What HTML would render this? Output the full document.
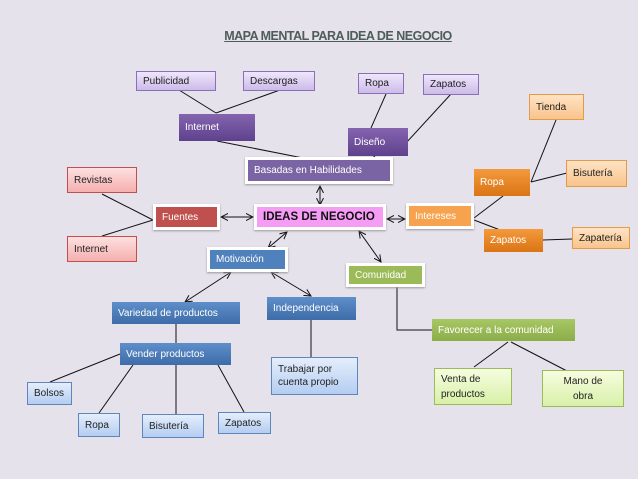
<!DOCTYPE html>
<html><head><meta charset="utf-8"><style>
body{margin:0;width:638px;height:479px;background:#e6e2ec;position:relative;overflow:hidden;font-family:"Liberation Sans",sans-serif;}
.b{position:absolute;box-sizing:border-box;font-size:10px;padding-left:6px;display:flex;align-items:center;}
.lv{background:linear-gradient(#efe6fb,#cdbbe9);border:1px solid #8a70b8;color:#222;}
.pu{background:linear-gradient(#8564b0,#5e418c);color:#fff;}
.lo{background:linear-gradient(#ffe3c4,#f9c48c);border:1px solid #e39a4a;color:#222;}
.or{background:linear-gradient(#f39a3d,#db7414);color:#fff;}
.pk{background:linear-gradient(#fde0e0,#f5afaf);border:1px solid #c0504d;color:#222;}
.bl{background:linear-gradient(#5f8fca,#3d6ca8);color:#fff;}
.lb{background:linear-gradient(#e4eefc,#b4cdf1);border:1px solid #5f86bb;color:#222;}
.gr{background:linear-gradient(#a8c766,#8bad48);color:#fff;}
.lg{background:linear-gradient(#f6fde0,#d8f0a8);border:1px solid #9bbb59;color:#222;}
.w{border:3px solid #fff;box-shadow:0 1px 2px #999;}
</style></head><body>
<div style="position:absolute;left:221px;width:234px;top:29px;text-align:center;font-weight:bold;font-size:12.5px;color:#4d5d57;text-decoration:underline;letter-spacing:-0.5px;">MAPA MENTAL PARA IDEA DE NEGOCIO</div>
<svg width="638" height="479" style="position:absolute;left:0;top:0">
<defs><marker id="a" markerWidth="8" markerHeight="8" refX="7" refY="4" orient="auto-start-reverse" markerUnits="userSpaceOnUse"><path d="M0,0.5L7,4L0,7.5" fill="none" stroke="#111" stroke-width="1"/></marker></defs>
<g stroke="#111" stroke-width="1" fill="none">
<line x1="179" y1="90" x2="216" y2="113"/><line x1="280" y1="90" x2="216" y2="113"/>
<line x1="217" y1="141" x2="308" y2="159"/>
<line x1="386" y1="94" x2="371" y2="128"/><line x1="451" y1="94" x2="406" y2="143"/>
<line x1="375" y1="156" x2="358" y2="168"/>
<line x1="556" y1="120" x2="531" y2="182"/><line x1="567" y1="173" x2="531" y2="182"/>
<line x1="503" y1="196" x2="474" y2="218"/><line x1="474" y1="220" x2="508" y2="233"/>
<line x1="543" y1="240" x2="572" y2="239"/>
<line x1="102" y1="194" x2="153" y2="220"/><line x1="102" y1="236" x2="153" y2="220"/>
<polyline points="397,287 397,330 432,330"/>
<line x1="508" y1="342" x2="474" y2="367"/><line x1="511" y1="342" x2="567" y2="371"/>
<line x1="176" y1="324" x2="176" y2="343"/><line x1="311" y1="320" x2="311" y2="357"/>
<line x1="120" y1="354" x2="50" y2="382"/><line x1="133" y1="365" x2="99" y2="413"/>
<line x1="176" y1="365" x2="176" y2="414"/><line x1="218" y1="365" x2="244" y2="412"/>
</g>
<g stroke="#111" stroke-width="1" marker-start="url(#a)" marker-end="url(#a)">
<line x1="221" y1="217" x2="253" y2="217"/>
<line x1="320" y1="186" x2="320" y2="205"/>
<line x1="387" y1="219" x2="405" y2="219"/>
<line x1="287" y1="232" x2="268" y2="248"/>
<line x1="359" y1="231" x2="381" y2="262"/>
<line x1="231" y1="272" x2="185" y2="302"/>
<line x1="271" y1="272" x2="311" y2="296"/>
</g></svg>
<div class="b lv" style="left:136px;top:71px;width:80px;height:20px">Publicidad</div>
<div class="b lv" style="left:243px;top:71px;width:72px;height:20px">Descargas</div>
<div class="b pu" style="left:179px;top:114px;width:76px;height:27px">Internet</div>
<div class="b lv" style="left:358px;top:73px;width:46px;height:21px">Ropa</div>
<div class="b lv" style="left:423px;top:74px;width:56px;height:21px">Zapatos</div>
<div class="b pu" style="left:348px;top:128px;width:60px;height:28px">Diseño</div>
<div class="b pu w" style="left:245px;top:157px;width:148px;height:27px;background:#7a64a4">Basadas en Habilidades</div>
<div class="b lo" style="left:529px;top:94px;width:55px;height:26px">Tienda</div>
<div class="b lo" style="left:566px;top:160px;width:61px;height:27px">Bisutería</div>
<div class="b or" style="left:474px;top:169px;width:56px;height:27px">Ropa</div>
<div class="b pk" style="left:67px;top:167px;width:70px;height:26px">Revistas</div>
<div class="b w" style="left:153px;top:204px;width:67px;height:26px;background:#c0504d;color:#fff">Fuentes</div>
<div class="b w" style="left:254px;top:204px;width:132px;height:26px;background:#f59cf5;color:#111;font-weight:bold;font-size:11.5px">IDEAS DE NEGOCIO</div>
<div class="b w" style="left:406px;top:203px;width:68px;height:26px;background:#f6a24e;color:#fff">Intereses</div>
<div class="b or" style="left:484px;top:229px;width:59px;height:23px">Zapatos</div>
<div class="b lo" style="left:572px;top:227px;width:58px;height:22px">Zapatería</div>
<div class="b pk" style="left:67px;top:236px;width:70px;height:26px">Internet</div>
<div class="b w" style="left:207px;top:247px;width:81px;height:25px;background:#4f81bd;color:#fff">Motivación</div>
<div class="b w" style="left:346px;top:263px;width:79px;height:24px;background:#9bbb59;color:#fff">Comunidad</div>
<div class="b bl" style="left:112px;top:302px;width:128px;height:22px">Variedad de productos</div>
<div class="b bl" style="left:267px;top:297px;width:89px;height:23px">Independencia</div>
<div class="b gr" style="left:432px;top:319px;width:143px;height:22px">Favorecer a la comunidad</div>
<div class="b bl" style="left:120px;top:343px;width:111px;height:22px">Vender productos</div>
<div class="b lb" style="left:271px;top:357px;width:87px;height:38px;line-height:13px">Trabajar por<br>cuenta propio</div>
<div class="b lg" style="left:434px;top:368px;width:78px;height:37px;line-height:15px">Venta de<br>productos</div>
<div class="b lg" style="left:542px;top:370px;width:82px;height:37px;line-height:15px;justify-content:center;text-align:center;padding:0">Mano de<br>obra</div>
<div class="b lb" style="left:27px;top:382px;width:45px;height:23px">Bolsos</div>
<div class="b lb" style="left:78px;top:413px;width:42px;height:24px">Ropa</div>
<div class="b lb" style="left:142px;top:414px;width:62px;height:24px">Bisutería</div>
<div class="b lb" style="left:218px;top:412px;width:53px;height:22px">Zapatos</div>
</body></html>
